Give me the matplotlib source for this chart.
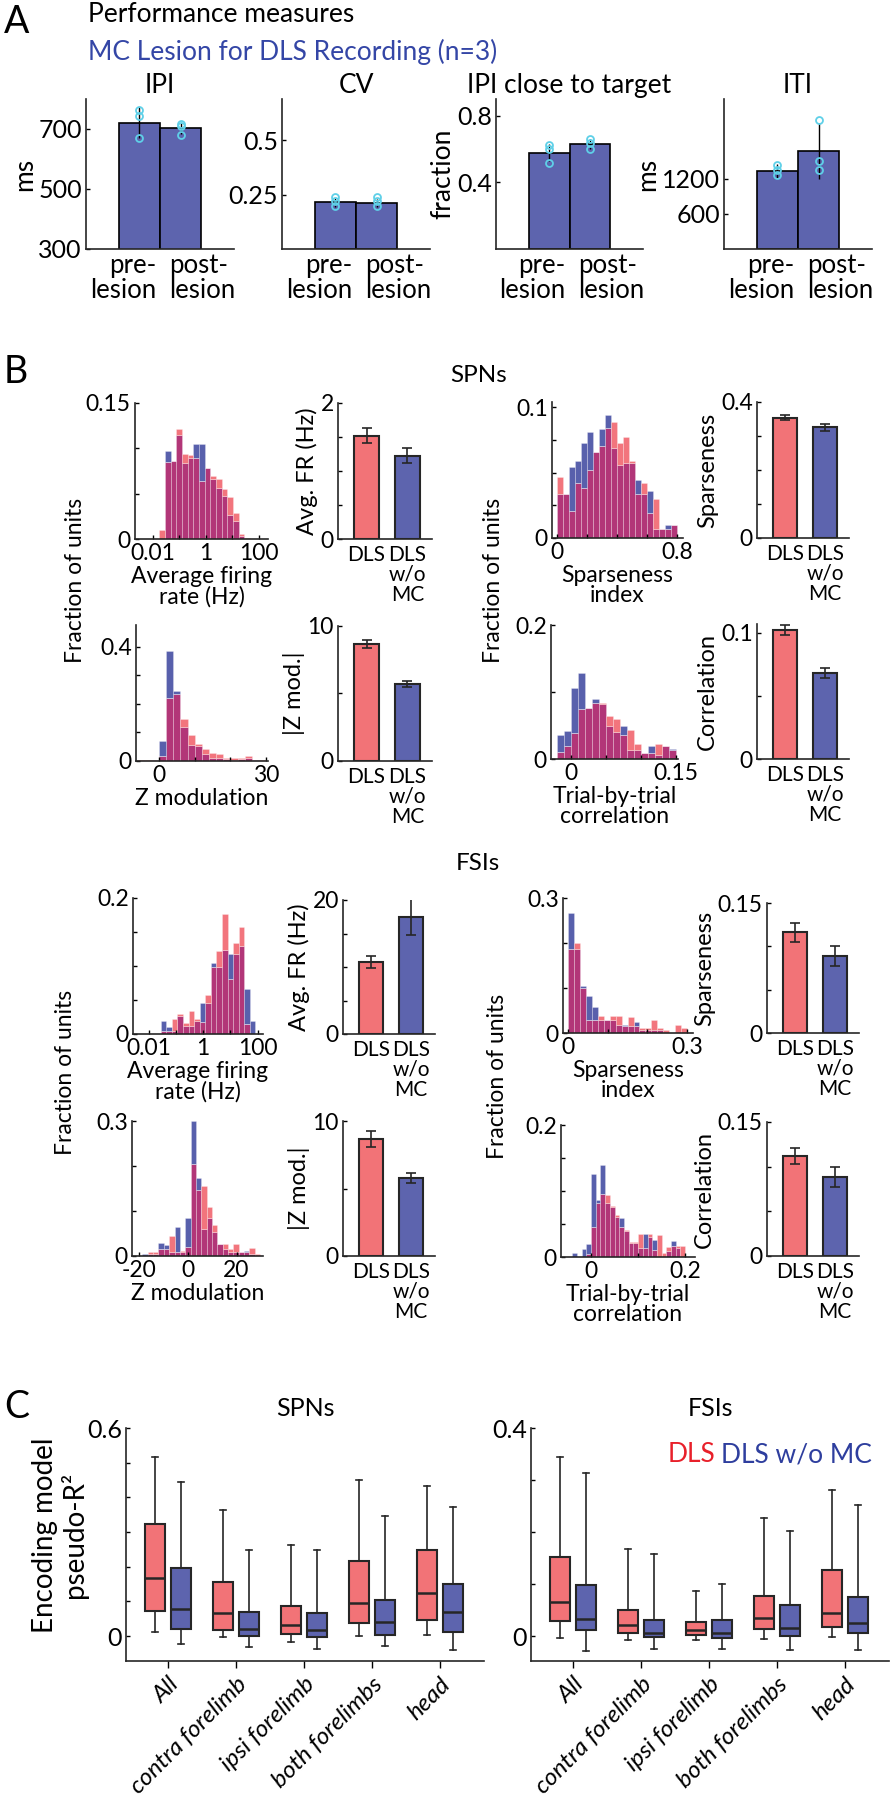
import numpy as np
import matplotlib
matplotlib.use('Agg')
import matplotlib.pyplot as plt
from matplotlib.transforms import blended_transform_factory

plt.rcParams['font.family'] = ['Lato', 'DejaVu Sans']
plt.rcParams['font.size'] = 16.5
plt.rcParams['axes.linewidth'] = 1.2
plt.rcParams['axes.edgecolor'] = '#262626'

# ---------------- data ----------------
# A: performance measures (n=3 rats)
perf_titles = ['IPI', 'CV', 'IPI close to target', 'ITI']
perf_ylabels = ['ms', '', 'fraction', 'ms']
perf_pre = [721, 0.215, 0.578, 1330]
perf_post = [702, 0.212, 0.628, 1685]
perf_pre_err = [52, 0.02, 0.05, 120]
perf_post_err = [18, 0.02, 0.03, 480]
perf_pre_rats = [[765, 745, 670], [0.239, 0.219, 0.196], [0.622, 0.602, 0.515], [1445, 1359, 1273]]
perf_post_rats = [[718, 709, 681], [0.238, 0.222, 0.2], [0.659, 0.638, 0.598], [2204, 1502, 1359]]
perf_ylims = [(300, 800), (0, 0.69), (0, 0.9), (0, 2570)]
perf_yticks = [[300, 500, 700], [0.25, 0.5], [0.4, 0.8], [600, 1200]]
perf_yticklabels = [['300', '500', '700'], ['0.25', '0.5'], ['0.4', '0.8'], ['600', '1200']]

# B: histograms (fraction of units), DLS vs DLS w/o MC
spn_fr_edges = -1.76 + 0.214 * np.arange(17)   # log10(Hz)
spn_fr_dls = [0.010, 0.085, 0.086, 0.121, 0.094, 0.093, 0.089, 0.064, 0.078, 0.070, 0.066, 0.055, 0.046, 0.029, 0.0055, 0.001]
spn_fr_nomc = [0.0, 0.097, 0.086, 0.115, 0.084, 0.089, 0.105, 0.105, 0.078, 0.066, 0.056, 0.047, 0.026, 0.020, 0.003, 0.0]

spn_z_edges = np.arange(-6, 31, 2)
spn_z_dls = [0.005, 0.005, 0.002, 0.016, 0.22, 0.235, 0.146, 0.091, 0.061, 0.042, 0.028, 0.024, 0.012, 0.011, 0.012, 0.016, 0.005, 0.005]
spn_z_nomc = [0, 0, 0.002, 0.069, 0.387, 0.246, 0.118, 0.055, 0.052, 0.026, 0.012, 0.012, 0.006, 0.005, 0.006, 0.010, 0.003, 0]

spn_sp_edges = np.linspace(0, 0.8, 21)
spn_sp_dls = [0.047, 0.034, 0.021, 0.042, 0.038, 0.052, 0.066, 0.070, 0.084, 0.089, 0.073, 0.077, 0.059, 0.034, 0.042, 0.019, 0.030, 0.007, 0.007, 0.010]
spn_sp_nomc = [0.034, 0.034, 0.054, 0.059, 0.073, 0.081, 0.066, 0.083, 0.094, 0.069, 0.056, 0.057, 0.057, 0.044, 0.034, 0.036, 0.007, 0.007, 0.010, 0.010]

spn_corr_edges = np.linspace(-0.02, 0.15, 18)
spn_corr_dls = [0.011, 0.020, 0.039, 0.074, 0.076, 0.083, 0.083, 0.064, 0.059, 0.036, 0.044, 0.023, 0.009, 0.009, 0.022, 0.019, 0.013]
spn_corr_nomc = [0.036, 0.042, 0.106, 0.128, 0.076, 0.090, 0.082, 0.050, 0.041, 0.049, 0.014, 0.014, 0.009, 0.020, 0.006, 0.019, 0.015]

fsi_fr_edges = -1.55 + 0.204 * np.arange(18)   # log10(Hz)
fsi_fr_dls = [0.005, 0.005, 0.022, 0.029, 0.016, 0.034, 0.022, 0.017, 0.058, 0.098, 0.122, 0.176, 0.081, 0.134, 0.157, 0.015, 0.0]
fsi_fr_nomc = [0.019, 0.011, 0.005, 0.026, 0.012, 0.012, 0.019, 0.045, 0.045, 0.105, 0.098, 0.124, 0.117, 0.117, 0.130, 0.066, 0.019]

fsi_z_edges = -18.7 + 2.2 * np.arange(23)
fsi_z_dls = [0, 0.010, 0.010, 0.015, 0.015, 0.044, 0.010, 0.012, 0.021, 0.204, 0.146, 0.155, 0.109, 0.069, 0.027, 0.027, 0.015, 0.027, 0.010, 0.010, 0.017, 0.004]
fsi_z_nomc = [0.004, 0.004, 0.004, 0.030, 0.024, 0.010, 0.064, 0.010, 0.084, 0.300, 0.174, 0.059, 0.084, 0.054, 0.027, 0.015, 0.010, 0.010, 0.010, 0.012, 0.004, 0]

fsi_sp_edges = np.linspace(0, 0.3, 21)
fsi_sp_dls = [0.186, 0.199, 0.100, 0.029, 0.029, 0.038, 0.028, 0.038, 0.038, 0.016, 0.035, 0.016, 0.011, 0.011, 0.028, 0.011, 0.006, 0.0, 0.017, 0.011]
fsi_sp_nomc = [0.267, 0.186, 0.104, 0.083, 0.057, 0.029, 0.028, 0.028, 0.018, 0.018, 0.016, 0.024, 0.006, 0.006, 0.006, 0.006, 0, 0, 0, 0]

fsi_corr_edges = np.linspace(-0.04, 0.2, 25)
fsi_corr_dls = [0, 0, 0, 0.005, 0.046, 0.082, 0.096, 0.094, 0.077, 0.064, 0.046, 0.041, 0.022, 0.022, 0.035, 0.014, 0.035, 0.011, 0.034, 0.006, 0.015, 0.017, 0.017, 0.017]
fsi_corr_nomc = [0.006, 0, 0.012, 0.019, 0.126, 0.086, 0.140, 0.082, 0.076, 0.060, 0.059, 0.039, 0.021, 0.021, 0.014, 0.035, 0.031, 0.026, 0, 0, 0.009, 0.025, 0.014, 0]

# B: bar summaries (mean, sem)
bar_groups = ['DLS', 'DLS\nw/o\nMC']
spn_fr_mean, spn_fr_sem = [1.52, 1.225], [0.11, 0.11]
spn_z_mean, spn_z_sem = [8.67, 5.7], [0.3, 0.2]
spn_sp_mean, spn_sp_sem = [0.354, 0.326], [0.007, 0.01]
spn_corr_mean, spn_corr_sem = [0.102, 0.068], [0.004, 0.004]
fsi_fr_mean, fsi_fr_sem = [10.7, 17.5], [0.9, 2.7]
fsi_z_mean, fsi_z_sem = [8.69, 5.81], [0.6, 0.37]
fsi_sp_mean, fsi_sp_sem = [0.116, 0.0888], [0.0105, 0.0115]
fsi_corr_mean, fsi_corr_sem = [0.112, 0.0885], [0.009, 0.011]

# C: encoding model pseudo-R2 box stats
c_regions = ['All', 'contra forelimb', 'ipsi forelimb', 'both forelimbs', 'head']
spn_dls_lo = [0.012, -0.003, -0.017, -0.001, 0.003]
spn_dls_q1 = [0.072, 0.018, 0.005, 0.038, 0.045]
spn_dls_med = [0.168, 0.065, 0.033, 0.095, 0.124]
spn_dls_q3 = [0.323, 0.156, 0.086, 0.216, 0.248]
spn_dls_hi = [0.516, 0.364, 0.264, 0.450, 0.434]
spn_nomc_lo = [-0.022, -0.033, -0.037, -0.030, -0.039]
spn_nomc_q1 = [0.021, -0.001, -0.003, 0.004, 0.011]
spn_nomc_med = [0.079, 0.019, 0.016, 0.040, 0.069]
spn_nomc_q3 = [0.197, 0.068, 0.065, 0.103, 0.149]
spn_nomc_hi = [0.443, 0.248, 0.248, 0.347, 0.371]
fsi_dls_lo = [-0.004, -0.007, -0.008, -0.005, -0.001]
fsi_dls_q1 = [0.029, 0.006, 0.002, 0.013, 0.017]
fsi_dls_med = [0.066, 0.021, 0.011, 0.035, 0.044]
fsi_dls_q3 = [0.152, 0.051, 0.027, 0.077, 0.127]
fsi_dls_hi = [0.344, 0.167, 0.087, 0.226, 0.281]
fsi_nomc_lo = [-0.029, -0.025, -0.024, -0.026, -0.026]
fsi_nomc_q1 = [0.011, -0.001, -0.003, 0.0, 0.005]
fsi_nomc_med = [0.033, 0.006, 0.006, 0.016, 0.025]
fsi_nomc_q3 = [0.098, 0.030, 0.030, 0.060, 0.075]
fsi_nomc_hi = [0.314, 0.158, 0.100, 0.202, 0.251]

# ---------------- style ----------------
RED = '#f27377'
BLUE = '#5d64ae'
H_RED = '#f2757d'      # DLS only
H_BLUE = '#5860ac'     # DLS w/o MC only
H_BOTH = '#b23678'     # overlap
EDGE = '#262626'
CYAN = '#5fd0e8'

W, H = 890, 1800
fig = plt.figure(figsize=(W / 100, H / 100), dpi=100)


def px_axes(x0, y0, x1, y1):
    return fig.add_axes([x0 / W, 1 - y1 / H, (x1 - x0) / W, (y1 - y0) / H])


def ftext(x, y, s, **kw):
    fig.text(x / W, 1 - y / H, s, **kw)


def style(ax):
    ax.spines['top'].set_visible(False)
    ax.spines['right'].set_visible(False)
    ax.tick_params(direction='in', length=3, width=1, pad=3, colors='black')


# ---------------- A ----------------
ftext(4, 22, 'A', fontsize=27, va='center')
ftext(88, 15, 'Performance measures', fontsize=19, va='center')
ftext(88, 52, 'MC Lesion for DLS Recording (n=3)', fontsize=19, va='center', color='#3446a6')

perf_boxes = [(86, 99, 234, 249), (282, 99, 430, 249), (496, 99, 643, 249), (724, 99, 872, 249)]
for i in range(4):
    ax = px_axes(*perf_boxes[i])
    style(ax)
    ax.bar([1, 2], [perf_pre[i], perf_post[i]], width=1.0, color=BLUE, edgecolor='black', linewidth=1.2, zorder=2)
    ax.errorbar([1, 2], [perf_pre[i], perf_post[i]], yerr=[perf_pre_err[i], perf_post_err[i]],
                fmt='none', ecolor='black', elinewidth=1, capsize=0, zorder=3)
    ax.plot([1] * 3, perf_pre_rats[i], 'o', mfc='none', mec=CYAN, ms=5, mew=1.3, zorder=4)
    ax.plot([2] * 3, perf_post_rats[i], 'o', mfc='none', mec=CYAN, ms=5, mew=1.3, zorder=4)
    ax.set_xlim(-0.3, 3.3)
    ax.set_ylim(perf_ylims[i])
    ax.set_xticks([])
    ax.set_yticks(perf_yticks[i], perf_yticklabels[i], fontsize=18)
    ax.set_title(perf_titles[i], fontsize=19, pad=4)
    if perf_ylabels[i]:
        ax.set_ylabel(perf_ylabels[i], fontsize=19, labelpad=1)
    tr = blended_transform_factory(ax.transData, ax.transAxes)
    ax.text(1.4, -0.03, 'pre-\nlesion', transform=tr, ha='right', va='top', fontsize=18.5, linespacing=0.95)
    ax.text(1.72, -0.03, 'post-\nlesion', transform=tr, ha='left', va='top', fontsize=18.5, linespacing=0.95)


# ---------------- B ----------------
def hist_axes(box, edges, dls, nomc, xlim, ylim, xticks, xlabels, yticks, ylabels, xlabel, log=False):
    ax = px_axes(*box)
    style(ax)
    e = np.asarray(edges, dtype=float)
    if log:
        ax.set_xscale('log')
        e = 10.0 ** e
    r = np.asarray(dls, dtype=float)
    b = np.asarray(nomc, dtype=float)
    both = np.minimum(r, b)
    kw = dict(width=np.diff(e), align='edge', edgecolor=(1, 1, 1, 0.35), linewidth=0.5)
    ax.bar(e[:-1], both, color=H_BOTH, **kw)
    ax.bar(e[:-1], b - both, bottom=both, color=H_BLUE, **kw)
    ax.bar(e[:-1], r - both, bottom=both, color=H_RED, **kw)
    ax.set_xlim(xlim)
    ax.set_ylim(ylim)
    ax.set_xticks(xticks, xlabels)
    ax.set_yticks(yticks, ylabels)
    if log:
        ax.minorticks_off()
    ax.set_xlabel(xlabel, labelpad=1, linespacing=0.95)
    return ax


def bar_axes(box, means, sems, ylim, yticks, ylabels, ylabel):
    ax = px_axes(*box)
    style(ax)
    ax.bar([1, 2], means, width=0.6, color=[RED, BLUE], edgecolor=EDGE, linewidth=1.5, zorder=2)
    ax.errorbar([1, 2], means, yerr=sems, fmt='none', ecolor=EDGE, elinewidth=1.2,
                capsize=3.5, capthick=1.2, zorder=3)
    ax.set_xlim(0.3, 2.6)
    ax.set_ylim(ylim)
    ax.set_xticks([1, 2], bar_groups, fontsize=15)
    ax.tick_params(axis='x', length=0, pad=4)
    for lab in ax.get_xticklabels():
        lab.set_linespacing(1.0)
    ax.set_yticks(yticks, ylabels)
    ax.set_ylabel(ylabel, labelpad=2, fontsize=17)
    return ax


ftext(4, 372, 'B', fontsize=27, va='center')
ftext(479, 376, 'SPNs', fontsize=17.5, ha='center', va='center')
ftext(478, 863, 'FSIs', fontsize=17.5, ha='center', va='center')
for x, y in [(76, 580), (494, 580), (66, 1072), (498, 1076)]:
    ftext(x, y, 'Fraction of units', rotation=90, ha='center', va='center', fontsize=16.5)

# SPNs
hist_axes((135, 403, 268, 539), spn_fr_edges, spn_fr_dls, spn_fr_nomc, (0.0021, 220), (0, 0.15),
          [0.01, 0.1, 1, 10, 100], ['0.01', '', '1', '', '100'],
          [0, 0.05, 0.1, 0.15], ['0', '', '', '0.15'], 'Average firing\nrate (Hz)', log=True)
bar_axes((338, 403, 432, 539), spn_fr_mean, spn_fr_sem, (0, 2), [0, 0.5, 1, 1.5, 2],
         ['0', '', '', '', '2'], 'Avg. FR (Hz)')
hist_axes((552, 402, 683, 538), spn_sp_edges, spn_sp_dls, spn_sp_nomc, (-0.033, 0.84), (0, 0.104),
          [0, 0.2, 0.4, 0.6, 0.8], ['0', '', '', '', '0.8'],
          [0, 0.025, 0.05, 0.075, 0.1], ['0', '', '', '', '0.1'], 'Sparseness\nindex')
bar_axes((757, 402, 849, 538), spn_sp_mean, spn_sp_sem, (0, 0.4), [0, 0.1, 0.2, 0.3, 0.4],
         ['0', '', '', '', '0.4'], 'Sparseness')
hist_axes((136, 625, 268, 761), spn_z_edges, spn_z_dls, spn_z_nomc, (-6.4, 30.5), (0, 0.477),
          [0, 10, 20, 30], ['0', '', '', '30'],
          [0, 0.1, 0.2, 0.3, 0.4], ['0', '', '', '', '0.4'], 'Z modulation')
bar_axes((338, 626, 432, 761), spn_z_mean, spn_z_sem, (0, 10), [0, 5, 10],
         ['0', '', '10'], '|Z mod.|')
hist_axes((551, 625, 678, 759), spn_corr_edges, spn_corr_dls, spn_corr_nomc, (-0.0286, 0.153), (0, 0.2),
          [0, 0.05, 0.1, 0.15], ['0', '', '', '0.15'],
          [0, 0.1, 0.2], ['0', '', '0.2'], 'Trial-by-trial\ncorrelation')
bar_axes((757, 624, 849, 759), spn_corr_mean, spn_corr_sem, (0, 0.107), [0, 0.05, 0.1],
         ['0', '', '0.1'], 'Correlation')

# FSIs
hist_axes((133, 898, 263, 1034), fsi_fr_edges, fsi_fr_dls, fsi_fr_nomc, (10 ** -2.57, 10 ** 2.2), (0, 0.2),
          [0.01, 0.1, 1, 10, 100], ['0.01', '', '1', '', '100'],
          [0, 0.05, 0.1, 0.15, 0.2], ['0', '', '', '', '0.2'], 'Average firing\nrate (Hz)', log=True)
bar_axes((343, 900, 435, 1034), fsi_fr_mean, fsi_fr_sem, (0, 20), [0, 5, 10, 15, 20],
         ['0', '', '', '', '20'], 'Avg. FR (Hz)')
hist_axes((563, 898, 693, 1033), fsi_sp_edges, fsi_sp_dls, fsi_sp_nomc, (-0.013, 0.315), (0, 0.3),
          [0, 0.1, 0.2, 0.3], ['0', '', '', '0.3'],
          [0, 0.1, 0.2, 0.3], ['0', '', '', '0.3'], 'Sparseness\nindex')
bar_axes((767, 903, 859, 1033), fsi_sp_mean, fsi_sp_sem, (0, 0.15), [0, 0.05, 0.1, 0.15],
         ['0', '', '', '0.15'], 'Sparseness')
hist_axes((132, 1121, 263, 1256), fsi_z_edges, fsi_z_dls, fsi_z_nomc, (-23, 30.9), (0, 0.3),
          [-20, 0, 20], ['-20', '0', '20'],
          [0, 0.1, 0.2, 0.3], ['0', '', '', '0.3'], 'Z modulation')
bar_axes((343, 1121, 435, 1256), fsi_z_mean, fsi_z_sem, (0, 10), [0, 5, 10],
         ['0', '', '10'], '|Z mod.|')
hist_axes((561, 1125, 695, 1257), fsi_corr_edges, fsi_corr_dls, fsi_corr_nomc, (-0.064, 0.221), (0, 0.2),
          [0, 0.1, 0.2], ['0', '', '0.2'],
          [0, 0.05, 0.1, 0.15, 0.2], ['0', '', '', '', '0.2'], 'Trial-by-trial\ncorrelation')
bar_axes((767, 1122, 859, 1256), fsi_corr_mean, fsi_corr_sem, (0, 0.15), [0, 0.05, 0.1, 0.15],
         ['0', '', '', '0.15'], 'Correlation')


# ---------------- C ----------------
def make_stats(lo, q1, med, q3, hi):
    return [dict(whislo=a, q1=b, med=c, q3=d, whishi=e, fliers=[]) for a, b, c, d, e in zip(lo, q1, med, q3, hi)]


def box_axes(box, dls_stats, nomc_stats, ylim, yticks, ylabels, title):
    ax = px_axes(*box)
    style(ax)
    pos = np.arange(len(c_regions))
    for stats, off, col in [(dls_stats, -0.19, RED), (nomc_stats, 0.19, BLUE)]:
        ax.bxp(stats, positions=pos + off, widths=0.29, patch_artist=True, showfliers=False,
               manage_ticks=False, capwidths=0.09,
               boxprops=dict(facecolor=col, edgecolor=EDGE, linewidth=1.5),
               medianprops=dict(color=EDGE, linewidth=1.8),
               whiskerprops=dict(color=EDGE, linewidth=1.2),
               capprops=dict(color=EDGE, linewidth=1.2))
    ax.set_xlim(-0.62, 4.65)
    ax.set_ylim(ylim)
    ax.set_yticks(yticks, ylabels, fontsize=18)
    ax.set_xticks(pos)
    ax.set_xticklabels(c_regions, rotation=45, ha='right', rotation_mode='anchor',
                       fontstyle='italic', fontsize=17.5)
    ax.tick_params(axis='x', direction='out', length=5, pad=4)
    ax.set_title(title, fontsize=18, pad=9)
    return ax


ftext(4, 1407, 'C', fontsize=27, va='center')
box_axes((126, 1428, 484, 1661),
         make_stats(spn_dls_lo, spn_dls_q1, spn_dls_med, spn_dls_q3, spn_dls_hi),
         make_stats(spn_nomc_lo, spn_nomc_q1, spn_nomc_med, spn_nomc_q3, spn_nomc_hi),
         (-0.072, 0.6), [0, 0.1, 0.2, 0.3, 0.4, 0.5, 0.6], ['0', '', '', '', '', '', '0.6'], 'SPNs')
box_axes((531, 1428, 889, 1661),
         make_stats(fsi_dls_lo, fsi_dls_q1, fsi_dls_med, fsi_dls_q3, fsi_dls_hi),
         make_stats(fsi_nomc_lo, fsi_nomc_q1, fsi_nomc_med, fsi_nomc_q3, fsi_nomc_hi),
         (-0.048, 0.4), [0, 0.1, 0.2, 0.3, 0.4], ['0', '', '', '', '0.4'], 'FSIs')
ftext(60, 1535, 'Encoding model\npseudo-R²', rotation=90, ha='center', va='center',
      fontsize=20, linespacing=1.05)
ftext(692, 1455, 'DLS', color='#e8202a', fontsize=19, ha='center', va='center')
ftext(796, 1455, 'DLS w/o MC', color='#2e3e9e', fontsize=19, ha='center', va='center')

fig.savefig('out.png', dpi=100)
